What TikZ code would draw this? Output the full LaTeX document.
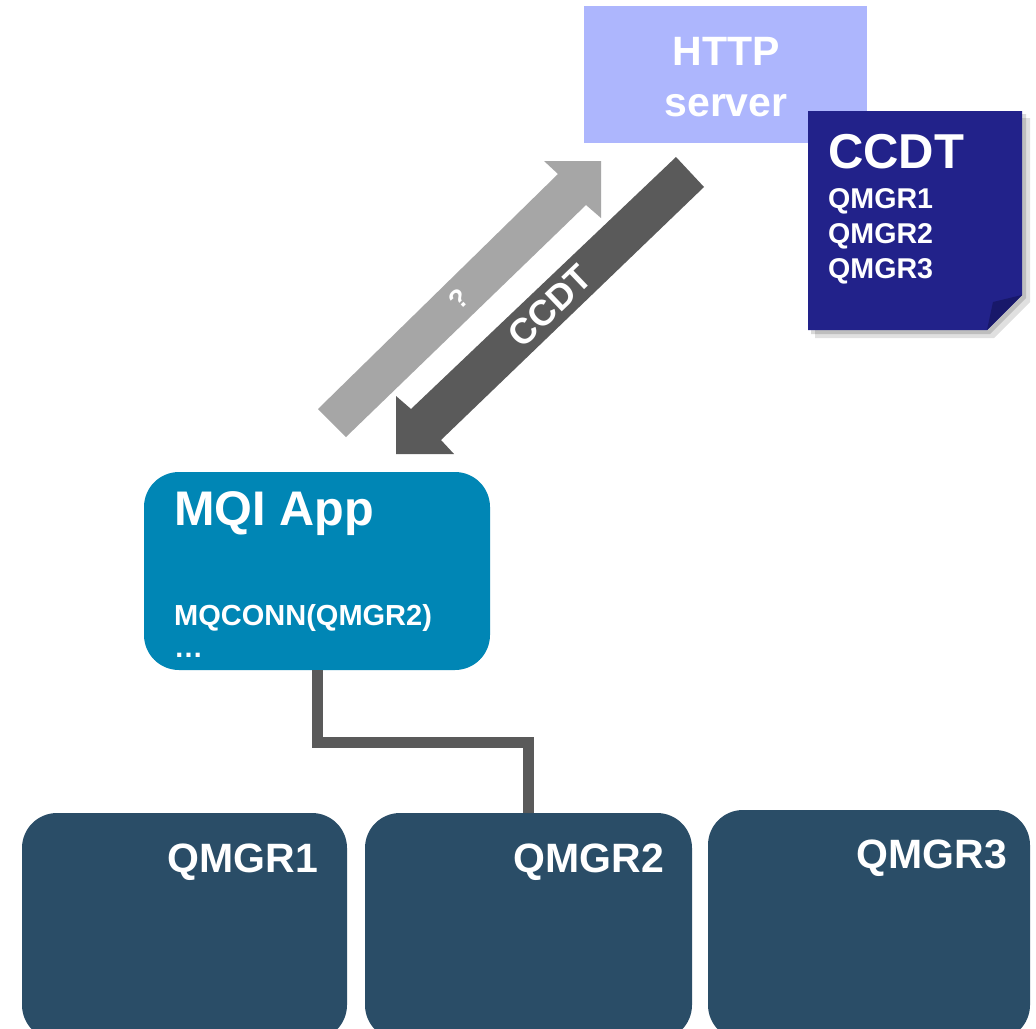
\documentclass[tikz,border=0pt]{standalone}
\usepackage{fontspec}
\setmainfont{Liberation Sans}
\definecolor{httpc}{HTML}{ADB6FD}
\definecolor{docc}{HTML}{22228A}
\definecolor{docfold}{HTML}{18186A}
\definecolor{arrlight}{HTML}{A6A6A6}
\definecolor{arrdark}{HTML}{5A5A5A}
\definecolor{appc}{HTML}{0086B5}
\definecolor{qmc}{HTML}{2A4D67}
\begin{document}
\begin{tikzpicture}[x=1pt,y=-1pt,
  wtxt/.style={text=white, inner sep=0pt, font={\bfseries\fontsize{#1}{#1}\selectfont}},
  boxnode/.style={draw=none, inner sep=0pt},
  conn/.style={draw=arrdark, line width=11pt}
]
\clip (0,0) rectangle (1036,1028);
\fill[white] (0,0) rectangle (1036,1028);

% HTTP server
\node[boxnode, fill=httpc, minimum width=283pt, minimum height=137pt] (http) at (725.5,74.5) {};
\node[wtxt=41, anchor=base] (httpa) at (726,65) {HTTP};
\node[wtxt=41, anchor=base] (httpb) at (726,116) {server};

% CCDT document with shadow
\fill[black, opacity=0.12] (815,118) -- (1030,118) -- (1030,302) -- (994,338) -- (815,338) -- cycle;
\fill[black, opacity=0.15] (811,114) -- (1026,114) -- (1026,298) -- (990,334) -- (811,334) -- cycle;
\fill[docc] (808,111) -- (1022,111) -- (1022,295) -- (987,330) -- (808,330) -- cycle;
\fill[docfold] (987,330) -- (1022,295) -- (993,302) -- cycle;
\node[wtxt=49, anchor=base west] (doct) at (828,168) {CCDT};
\node[wtxt=28.6, anchor=base west] (doc1) at (828,208) {QMGR1};
\node[wtxt=28.6, anchor=base west] (doc2) at (828,243) {QMGR2};
\node[wtxt=28.6, anchor=base west] (doc3) at (828,278) {QMGR3};

% light arrow (up-right)
\fill[arrlight] (318,409) -- (558,174) -- (544,161) -- (601,161) -- (601,218) -- (586,205) -- (346,437) -- cycle;
\node[wtxt=27, rotate=44.2] (q) at (459,299) {?};

% dark arrow (down-left)
\fill[arrdark] (676,157) -- (411,409) -- (396,396) -- (396,454) -- (454,454) -- (441,440) -- (704,187) -- cycle;
\node[wtxt=36, rotate=43.7] (ccdtlbl) at (550,306) {CCDT};

% MQI App
\node[boxnode, fill=appc, rounded corners=35pt, minimum width=346pt, minimum height=198pt] (app) at (317,571) {};
\node[wtxt=48.6, anchor=base west] (appt) at (174,525) {MQI App};
\node[wtxt=29, anchor=base west] (appc1) at (174,625) {MQCONN(QMGR2)};
\node[wtxt=29, anchor=base west] (appc2) at (174,657) {…};

% Queue managers
\node[boxnode, fill=qmc, rounded corners=35pt, minimum width=325pt, minimum height=227pt] (qm1) at (184.5,926.5) {};
\node[boxnode, fill=qmc, rounded corners=35pt, minimum width=327pt, minimum height=227pt] (qm2) at (528.5,926.5) {};
\node[boxnode, fill=qmc, rounded corners=35pt, minimum width=322pt, minimum height=230pt] (qm3) at (869,925) {};
\node[wtxt=41, anchor=base east] (qm1t) at (318,872) {QMGR1};
\node[wtxt=41, anchor=base east] (qm2t) at (664,872) {QMGR2};
\node[wtxt=41, anchor=base east] (qm3t) at (1007,868) {QMGR3};

% connector
\draw[conn] (app.south) -- ++(0,72) -| (qm2.north);
\end{tikzpicture}
\end{document}
